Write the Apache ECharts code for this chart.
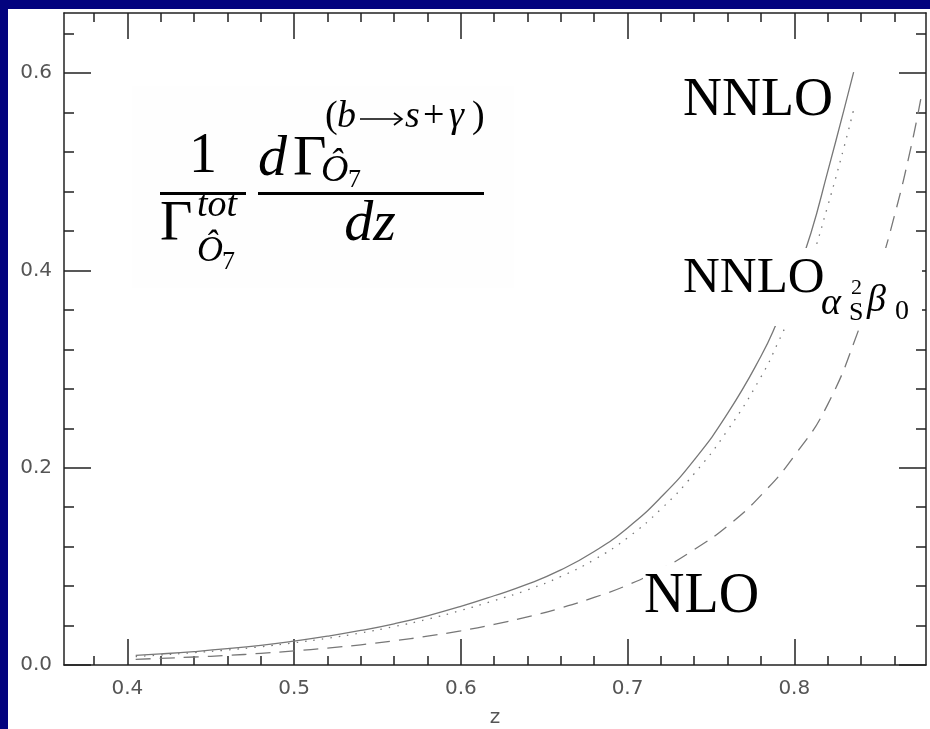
<!DOCTYPE html>
<html>
<head>
<meta charset="utf-8">
<script src="https://cdn.jsdelivr.net/npm/echarts@6/dist/echarts.min.js"></script>
<style>
  html, body { margin: 0; padding: 0; background: #03037e; }
  #page { position: relative; width: 930px; height: 729px; }
  #paper { position: absolute; left: 8px; top: 9px; width: 922px; height: 720px; background: #fff; }
  #chart { position: absolute; left: 0; top: 0; width: 930px; height: 729px; }
</style>
</head>
<body>
<div id="page">
  <div id="paper"></div>
  <div id="chart"></div>
</div>
<script>
// tick positions
const xMajor = [0.4, 0.5, 0.6, 0.7, 0.8];
const xMinor = [0.38, 0.42, 0.44, 0.46, 0.48, 0.52, 0.54, 0.56, 0.58, 0.62, 0.64, 0.66, 0.68,
  0.72, 0.74, 0.76, 0.78, 0.82, 0.84, 0.86];
const yMajor = [0, 0.2, 0.4, 0.6];
const yMinor = [0.04, 0.08, 0.12, 0.16, 0.24, 0.28, 0.32, 0.36, 0.44, 0.48, 0.52, 0.56, 0.64];

// NNLO (solid) and NNLO_{as^2 b0} (dotted) share the same z points
const zNNLO = [0.405, 0.42, 0.44, 0.46, 0.48, 0.50, 0.52, 0.54, 0.56, 0.58, 0.60, 0.62, 0.64,
  0.66, 0.68, 0.70, 0.72, 0.74, 0.76, 0.78, 0.79, 0.80, 0.81, 0.82, 0.83, 0.8356];
const nnlo = [0.0097, 0.0112, 0.0136, 0.0165, 0.0200, 0.0243, 0.0292, 0.0350, 0.0418, 0.0499,
  0.0594, 0.0702, 0.0819, 0.0964, 0.1150, 0.139, 0.170, 0.208, 0.255, 0.313, 0.349, 0.390,
  0.438, 0.500, 0.564, 0.601];
const nnloBeta = [0.0085, 0.0102, 0.0125, 0.0152, 0.0185, 0.0225, 0.0271, 0.0325, 0.0389,
  0.0464, 0.0553, 0.0653, 0.0762, 0.0897, 0.1068, 0.129, 0.158, 0.194, 0.238, 0.292, 0.326,
  0.364, 0.409, 0.465, 0.526, 0.563];

// NLO (dashed)
const zNLO = [0.405, 0.42, 0.44, 0.46, 0.48, 0.50, 0.52, 0.54, 0.56, 0.58, 0.60, 0.62, 0.64,
  0.66, 0.68, 0.70, 0.72, 0.74, 0.76, 0.78, 0.80, 0.82, 0.84, 0.85, 0.86, 0.87, 0.876];
const nlo = [0.0058, 0.0067, 0.0081, 0.0097, 0.0118, 0.0143, 0.0172, 0.0205, 0.0245, 0.0292,
  0.0347, 0.0412, 0.0488, 0.0578, 0.0685, 0.081, 0.097, 0.117, 0.141, 0.172, 0.212, 0.264,
  0.346, 0.396, 0.455, 0.525, 0.575];

const pairs = (xs, ys) => xs.map((x, i) => [x, ys[i]]);

const serif = "'Liberation Serif', 'DejaVu Serif', serif";
const lineCol = "#222";
const curveCol = "#777";

function txt(x, y, text, size, opts) {
  opts = opts || {};
  return {
    type: "text", z: 100, x: x, y: y,
    style: {
      text: text,
      font: (opts.italic ? "italic " : "") + size + "px " + serif,
      fill: "#000",
      align: opts.align || "left", textAlign: opts.align || "left",
      verticalAlign: "middle", textVerticalAlign: "middle"
    }
  };
}
function box(x, y, w, h, fill) {
  return { type: "rect", z: 99, shape: { x: x, y: y, width: w, height: h }, style: { fill: fill || "#fff" } };
}
function stroke(points) {
  return { type: "polyline", z: 100, shape: { points: points }, style: { stroke: "#000", lineWidth: 1.6, fill: null } };
}

function xAx(pos, ticks, len, label, line) {
  return {
    type: "value", position: pos, min: 0.362, max: 0.879,
    name: label ? "z" : "", nameLocation: "middle", nameGap: 43,
    nameTextStyle: { color: "#555", fontSize: 20, fontFamily: "DejaVu Sans" },
    axisLine: { show: line, onZero: false, lineStyle: { color: lineCol, width: 1.5 } },
    axisTick: { show: true, inside: true, length: len, customValues: ticks, lineStyle: { color: lineCol, width: 1.5 } },
    axisLabel: { show: label, customValues: ticks, margin: 14, color: "#555", fontSize: 20,
      fontFamily: "DejaVu Sans", formatter: v => v.toFixed(1) },
    splitLine: { show: false }
  };
}
function yAx(pos, ticks, len, label, line) {
  return {
    type: "value", position: pos, min: 0, max: 0.661,
    axisLine: { show: line, onZero: false, lineStyle: { color: lineCol, width: 1.5 } },
    axisTick: { show: true, inside: true, length: len, customValues: ticks, lineStyle: { color: lineCol, width: 1.5 } },
    axisLabel: { show: label, customValues: ticks, margin: 12, color: "#555", fontSize: 20,
      fontFamily: "DejaVu Sans", formatter: v => v.toFixed(1) },
    splitLine: { show: false }
  };
}

let chart = echarts.init(document.getElementById("chart"));
const option = {
  animation: false,
  grid: { left: 64, right: 4, top: 13, bottom: 64, containLabel: false, outerBoundsMode: "none" },
  xAxis: [
    xAx("bottom", xMajor, 26, true, true),
    xAx("bottom", xMinor, 9, false, false),
    xAx("top", xMajor, 26, false, true),
    xAx("top", xMinor, 9, false, false)
  ],
  yAxis: [
    yAx("left", yMajor, 27, true, true),
    yAx("left", yMinor, 10, false, false),
    yAx("right", yMajor, 27, false, true),
    yAx("right", yMinor, 10, false, false)
  ],
  series: [
    {
      name: "NNLO", type: "line", smooth: true, showSymbol: false,
      data: pairs(zNNLO, nnlo),
      lineStyle: { color: curveCol, width: 1.3, type: "solid" }
    },
    {
      name: "NNLO as2 b0", type: "line", smooth: true, showSymbol: false,
      data: pairs(zNNLO, nnloBeta),
      lineStyle: { color: curveCol, width: 1.3, type: [1.5, 7] }
    },
    {
      name: "NLO", type: "line", smooth: true, showSymbol: false,
      data: pairs(zNLO, nlo),
      lineStyle: { color: curveCol, width: 1.3, type: [15, 9] }
    }
  ],
  graphic: {
    elements: [
      // formula
      box(132, 86, 382, 202, "#fefefe"),
      txt(203, 157, "1", 56, { align: "center" }),
      box(160, 192, 86, 3, "#000"),
      txt(160, 225, "\u0393", 56),
      txt(197, 206, "tot", 38, { italic: true }),
      txt(197, 252, "\u00d4", 36, { italic: true }),
      txt(222, 262, "7", 26),
      box(258, 192, 226, 3, "#000"),
      txt(258, 160, "d", 58, { italic: true }),
      txt(293, 160, "\u0393", 58),
      txt(325, 117, "(", 38),
      txt(337, 117, "b", 38, { italic: true }),
      stroke([[360, 119], [401, 119]]),
      stroke([[394, 113], [402, 119], [394, 125]]),
      txt(405, 117, "s", 38, { italic: true }),
      txt(423, 117, "+", 38),
      txt(449, 117, "\u03b3", 38, { italic: true }),
      txt(472, 117, ")", 38),
      txt(321, 171, "\u00d4", 38, { italic: true }),
      txt(348, 180, "7", 26),
      txt(370, 225, "dz", 58, { italic: true, align: "center" }),
      // curve labels
      box(676, 70, 156, 60),
      txt(683, 101, "NNLO", 54),
      box(676, 248, 246, 78),
      txt(683, 279, "NNLO", 51),
      txt(821, 304, "\u03b1", 38, { italic: true }),
      txt(851, 288, "2", 22),
      txt(849, 313, "S", 26),
      txt(867, 301, "\u03b2", 38, { italic: true }),
      txt(895, 312, "0", 28),
      box(643, 566, 126, 52),
      txt(644, 597, "NLO", 56)
    ]
  }
};
chart.setOption(option);
window.addEventListener("resize", function() {
  chart.resize();
});
</script>
</body>
</html>
